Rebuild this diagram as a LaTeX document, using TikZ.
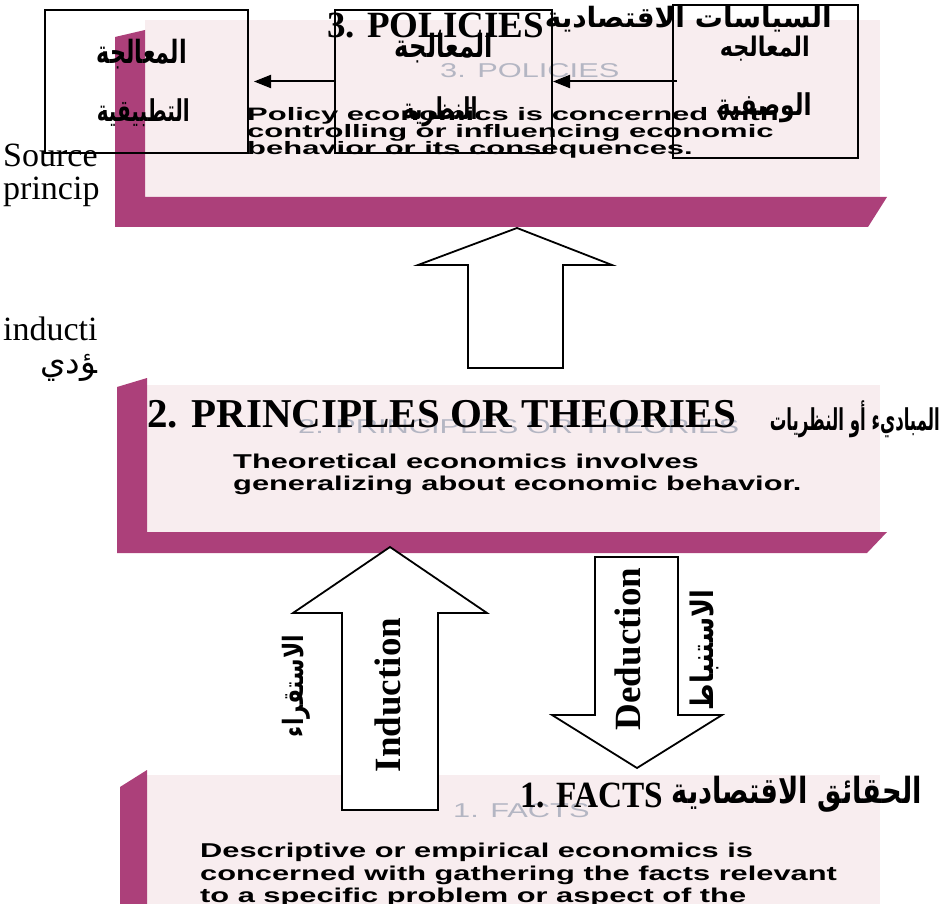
\documentclass[tikz,border=0pt]{standalone}
\usepackage{fontspec}
\usepackage{graphicx}
\setmainfont{Liberation Serif}
\newfontfamily\bodyfont{Liberation Sans}
\newfontfamily\arabicfont[Script=Arabic]{DejaVu Sans}
\usetikzlibrary{arrows.meta}
\TeXXeTstate=1

\definecolor{barpurple}{RGB}{172,64,122}
\definecolor{panelpink}{RGB}{248,237,239}
\definecolor{ghostgray}{RGB}{180,182,195}

% bold Arabic label of a given size, squeezed to a given width
\newcommand{\artxt}[3]{\resizebox{#1pt}{\height}{\arabicfont\bfseries\fontsize{#2}{#2}\selectfont #3}}
% wide slide lettering
\newcommand{\wide}[1]{\scalebox{1.54}[1]{#1}}
\newcommand{\wider}[1]{\scalebox{1.72}[1]{#1}}

\begin{document}
\begin{tikzpicture}[x=1pt,y=-1pt,
  panelbar/.style={fill=barpurple,draw=none},
  panelbg/.style={fill=panelpink,draw=none},
  bodytext/.style={anchor=base west,inner sep=0pt,
    font=\bodyfont\bfseries\fontsize{20}{22}\selectfont},
  smallbody/.style={anchor=base west,inner sep=0pt,
    font=\bodyfont\bfseries\fontsize{18}{20}\selectfont},
  ghosttext/.style={anchor=base west,inner sep=0pt,text=ghostgray,
    font=\bodyfont\fontsize{20}{22}\selectfont},
  titletext/.style={anchor=base west,inner sep=0pt},
  arlabel/.style={inner sep=0pt},
  labelbox/.style={draw,line width=2pt,inner sep=0pt},
  boxarrow/.style={line width=2pt,-{Triangle[length=17pt,width=13pt]}},
  bigarrow/.style={draw,line width=1.8pt,fill=white,line join=miter},
  edgetext/.style={anchor=base west,inner sep=0pt,
    font=\fontsize{34}{36}\selectfont}]

\useasboundingbox (0,0) rectangle (948,904);

% ---------- slide panels ----------
\fill[panelbg] (145,20) rectangle (880,197);
\fill[panelbar] (115,37) -- (145,30) -- (145,197) -- (887,197) -- (868,227) -- (115,227) -- cycle;

\fill[panelbg] (147,385) rectangle (880,532);
\fill[panelbar] (117,387) -- (147,378) -- (147,532) -- (887,532) -- (867,553) -- (117,553) -- cycle;

\fill[panelbg] (147,775) rectangle (880,904);
\fill[panelbar] (120,787) -- (147,770) -- (147,904) -- (120,904) -- cycle;

% faint slide headings
\node[ghosttext] (g3) at (440,78) {\wide{3. POLICIES}};
\node[ghosttext] (g2) at (298,433) {\wide{2. PRINCIPLES OR THEORIES}};
\node[ghosttext] (g1) at (453,817) {\wide{1. FACTS}};

% slide texts
\node[smallbody] (p3a) at (247,121) {\wider{Policy economics is concerned with}};
\node[smallbody] (p3b) at (247,138) {\wider{controlling or influencing economic}};
\node[smallbody] (p3c) at (247,155) {\wider{behavior or its consequences.}};

\node[bodytext] (p2a) at (233,468) {\wide{Theoretical economics involves}};
\node[bodytext] (p2b) at (233,490) {\wide{generalizing about economic behavior.}};

\node[bodytext] (p1a) at (200,857) {\wide{Descriptive or empirical economics is}};
\node[bodytext] (p1b) at (200,880) {\wide{concerned with gathering the facts relevant}};
\node[bodytext] (p1c) at (200,902) {\wide{to a specific problem or aspect of the}};

% ---------- block arrows ----------
\draw[bigarrow] (468,368) -- (468,265) -- (418,265) -- (517,228) -- (612,265) -- (563,265) -- (563,368) -- cycle;
\draw[bigarrow] (342,810) -- (342,613) -- (293,613) -- (390,547) -- (487,613) -- (438,613) -- (438,810) -- cycle;
\draw[bigarrow] (595,557) -- (678,557) -- (678,715) -- (722,715) -- (637,768) -- (552,715) -- (595,715) -- cycle;

\node[rotate=90,inner sep=0pt,font=\bfseries\fontsize{37}{40}\selectfont] (ind) at (388,695) {Induction};
\node[rotate=90,inner sep=0pt,font=\bfseries\fontsize{37}{40}\selectfont] (ded) at (628,649) {Deduction};
\node[rotate=90,arlabel] (istiqra) at (296,686) {\artxt{102}{28}{\beginR الاستقراء\endR}};
\node[rotate=90,arlabel] (istinbat) at (704,650) {\artxt{120}{31}{\beginR الاستنباط\endR}};

% ---------- headings ----------
\node[titletext,font=\bfseries\fontsize{37}{40}\selectfont] (t3) at (327,38) {3. POLICIES};
\node[arlabel,anchor=base east] (t3ar) at (832,28) {\artxt{287}{28}{\beginR السياسات الاقتصادية\endR}};

\node[titletext,font=\bfseries\fontsize{41}{44}\selectfont] (t2) at (147,427) {2. PRINCIPLES OR THEORIES};
\node[arlabel,anchor=base east] (t2ar) at (940,430) {\artxt{170}{30}{\beginR المباديء أو النظريات\endR}};

\node[titletext,font=\bfseries\fontsize{37}{42}\selectfont] (t1) at (520,807) {\scalebox{0.9}[1]{1. FACTS}};
\node[arlabel,anchor=base east] (t1ar) at (922,803) {\artxt{250}{36}{\beginR الحقائق الاقتصادية\endR}};

% ---------- treatment boxes ----------
\node[labelbox,minimum width=203pt,minimum height=143pt] (lbox) at (146.5,81.5) {};
\node[labelbox,minimum width=217pt,minimum height=143pt] (mbox) at (443.5,81.5) {};
\node[labelbox,minimum width=185pt,minimum height=153pt] (rbox) at (765.5,81.5) {};

\node[arlabel,anchor=base east] (l1) at (187,64) {\artxt{90}{32}{\beginR المعالجة\endR}};
\node[arlabel,anchor=base east] (l2) at (190,122) {\artxt{93}{30}{\beginR التطبيقية\endR}};
\node[arlabel,anchor=base east] (m1) at (493,58) {\artxt{98}{32}{\beginR المعالجة\endR}};
\node[arlabel,anchor=base] (m2) at (440,120) {\artxt{75}{30}{\beginR النظرية\endR}};
\node[arlabel,anchor=base east] (r1) at (810,57) {\artxt{90}{27}{\beginR المعالجه\endR}};
\node[arlabel,anchor=base east] (r2) at (812,116) {\artxt{95}{30}{\beginR الوصفية\endR}};

\draw[boxarrow,shorten <=-5pt] (rbox.west) -- (mbox.east);
\draw[boxarrow,shorten >=5pt] (mbox.west) -- (lbox.east);

% ---------- text running in from the left margin ----------
\node[edgetext] (s1) at (3,167) {Source};
\node[edgetext] (s2) at (3,200) {princip};
\node[edgetext] (s3) at (3,340) {inducti};
\node[arlabel,anchor=base west] (s4) at (40,373) {\resizebox{57pt}{!}{\arabicfont\fontsize{30}{32}\selectfont\beginR ^^^^200dؤدي\endR}};

\end{tikzpicture}
\end{document}
